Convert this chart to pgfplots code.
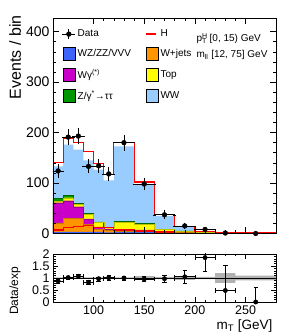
\documentclass[border=0pt]{standalone}
\usepackage{fontspec}
\setmainfont{Liberation Sans}
\usepackage{pgfplots}
\pgfplotsset{compat=1.18}
\usepackage{pgfplotstable}
\usepgfplotslibrary{fillbetween}

\definecolor{cWZ}{RGB}{60,100,250}
\definecolor{cWJ}{RGB}{255,150,0}
\definecolor{cWG}{RGB}{200,0,200}
\definecolor{cTOP}{RGB}{255,255,0}
\definecolor{cDY}{RGB}{0,150,0}
\definecolor{cWW}{RGB}{153,204,255}

\pgfplotstableread{
x wz wj wg top dy ww h rb
60 3 18 40 3 5 64 7 0.03
70 3 27 35 6 5 100 12 0.03
80 3 27 23 5 1.5 106.5 14 0.03
90 3 15 11 9 1.5 105.5 16.7 0.03
100 3 5 5 9 1 103.6 12 0.03
110 2 4 3 3 0.5 93 11.4 0.03
120 3 2 2 16 1 148.6 7 0.03
140 3 1 3 12 1 77 5 0.08
160 2 1 1 4 0.3 26.7 3 0.05
180 1 1 0.3 2.5 0.2 9 0.3 0.08
200 0.5 0.3 0.2 1 0.1 2 0.1 0.05
220 0.3 0.2 0.1 0.4 0.05 1 0.05 0.2
240 0.2 0.1 0.1 0.3 0.05 0.7 0.05 0.1
280 0.2 0.1 0.1 0.3 0.05 0.7 0.05 0.1
}\bkg

\pgfplotstableread{
x ex y ey eyl r er erl
65 5 124 11.1 11.1 0.88 0.08 0.08
75 5 191 13.8 13.8 1.02 0.07 0.07
85 5 193 13.9 13.9 1.07 0.077 0.077
95 5 133 11.5 11.5 0.82 0.07 0.07
105 5 134 11.6 11.6 0.97 0.084 0.084
115 5 118 10.9 10.9 1.01 0.093 0.093
130 10 180 13.4 13.4 1.0 0.075 0.075
150 10 98 9.9 9.9 0.96 0.097 0.097
170 10 37 6.1 6.1 0.97 0.16 0.16
190 10 15 3.9 3.9 1.05 0.27 0.27
210 10 8 2.8 2.8 1.85 0.6 0.55
230 10 1 2.3 0.8 0.48 1.05 0.48
260 20 0 1.8 0 0 0.6 0
}\data

\pgfplotsset{
  sqleg/.style={legend image code/.code={\fill[##1] (1pt,-6.5pt) rectangle (13pt,6.5pt);}},
  dataleg/.style={legend image code/.code={%
    \draw[black, line width=0.8pt] (0pt,0pt)--(13pt,0pt);
    \draw[black, line width=0.8pt] (6.5pt,-5pt)--(6.5pt,5pt);
    \fill[black] (6.5pt,0pt) circle (2.4pt);}},
  hleg/.style={legend image code/.code={\draw[red, line width=1.2pt] (1pt,0pt)--(11pt,0pt);}},
}

\begin{document}
\begin{tikzpicture}
\begin{axis}[
  at={(0pt,0pt)}, anchor=south west,
  scale only axis, width=223pt, height=215.5pt,
  xmin=60, xmax=280, ymin=0, ymax=427,
  xtick={100,150,200,250}, xticklabels={},
  minor x tick num=4,
  ytick={0,100,200,300,400}, minor y tick num=4,
  tick align=inside, major tick length=6pt, minor tick length=3pt,
  tick style={black, line width=0.5pt},
  axis line style={line width=0.8pt},
  axis on top,
  /pgf/number format/assume math mode=true,
  yticklabel style={font=\fontsize{14}{16}\selectfont},
  ylabel={Events / bin},
  ylabel style={font=\fontsize{16}{18}\selectfont, at={(axis description cs:-0.17,1.028)}, anchor=east},
  legend columns=2,
  legend cell align=left,
  legend style={draw=none, fill=none, inner sep=0pt, outer sep=0pt,
    at={(axis description cs:0.040,0.954)}, anchor=north west,
    font=\fontsize{10}{12}\selectfont, row sep=7pt,
    /tikz/every even column/.append style={column sep=3pt}},
]
% stacked backgrounds drawn as cumulative layers (top first)
\addplot[const plot, fill=cWW, draw=none, forget plot] table[x=x, y expr=\thisrow{wz}+\thisrow{wj}+\thisrow{wg}+\thisrow{top}+\thisrow{dy}+\thisrow{ww}] \bkg \closedcycle;
\addplot[const plot, fill=cDY, draw=none, forget plot] table[x=x, y expr=\thisrow{wz}+\thisrow{wj}+\thisrow{wg}+\thisrow{top}+\thisrow{dy}] \bkg \closedcycle;
\addplot[const plot, fill=cTOP, draw=none, forget plot] table[x=x, y expr=\thisrow{wz}+\thisrow{wj}+\thisrow{wg}+\thisrow{top}] \bkg \closedcycle;
\addplot[const plot, fill=cWG, draw=none, forget plot] table[x=x, y expr=\thisrow{wz}+\thisrow{wj}+\thisrow{wg}] \bkg \closedcycle;
\addplot[const plot, fill=cWJ, draw=none, forget plot] table[x=x, y expr=\thisrow{wz}+\thisrow{wj}] \bkg \closedcycle;
\addplot[const plot, fill=cWZ, draw=none, forget plot] table[x=x, y=wz] \bkg \closedcycle;
% layer outlines
\addplot[const plot, draw=cDY!70!black, line width=0.4pt, forget plot] table[x=x, y expr=\thisrow{wz}+\thisrow{wj}+\thisrow{wg}+\thisrow{top}+\thisrow{dy}] \bkg;
\addplot[const plot, draw=cTOP!75!black, line width=0.3pt, forget plot] table[x=x, y expr=\thisrow{wz}+\thisrow{wj}+\thisrow{wg}+\thisrow{top}] \bkg;
\addplot[const plot, draw=cWG!75!black, line width=0.3pt, forget plot] table[x=x, y expr=\thisrow{wz}+\thisrow{wj}+\thisrow{wg}] \bkg;
\addplot[const plot, draw=cWJ!80!black, line width=0.3pt, forget plot] table[x=x, y expr=\thisrow{wz}+\thisrow{wj}] \bkg;
% total with signal
\addplot[const plot, red, line width=1.1pt, forget plot] table[x=x, y expr=\thisrow{wz}+\thisrow{wj}+\thisrow{wg}+\thisrow{top}+\thisrow{dy}+\thisrow{ww}+\thisrow{h}] \bkg;
% signal alone
\addplot[const plot, red, line width=1.1pt, forget plot] table[x=x, y=h] \bkg;
% data
\addplot[black, only marks, mark=*, mark size=2.4pt, forget plot,
  error bars/.cd, x dir=both, x explicit, y dir=both, y explicit,
  error bar style={line width=0.7pt}, error mark options={mark size=1.3pt, line width=0.6pt}]
  table[x=x, y=y, x error=ex, y error plus=ey, y error minus=eyl] \data;

\addlegendimage{dataleg}\addlegendentry{\makebox[63pt][l]{Data}}
\addlegendimage{hleg}\addlegendentry{H}
\addlegendimage{sqleg, fill=cWZ}\addlegendentry{\makebox[63pt][l]{WZ/ZZ/VVV}}
\addlegendimage{sqleg, fill=cWJ}\addlegendentry{W+jets}
\addlegendimage{sqleg, fill=cWG}\addlegendentry{\makebox[63pt][l]{Wγ\textsuperscript{(*)}}}
\addlegendimage{sqleg, fill=cTOP}\addlegendentry{Top}
\addlegendimage{sqleg, fill=cDY}\addlegendentry{\makebox[63pt][l]{Z/γ\textsuperscript{*}→ττ}}
\addlegendimage{sqleg, fill=cWW}\addlegendentry{WW}

\node[anchor=base west, font=\bfseries\fontsize{13}{13}\selectfont] at ([yshift=3pt]rel axis cs:0,1) {CMS};
\node[anchor=base east, font=\fontsize{9}{10}\selectfont] at ([yshift=4pt]rel axis cs:1,1) {19.4 fb\textsuperscript{-1} (8 TeV)};
\node[anchor=west, font=\fontsize{10}{12}\selectfont] at (rel axis cs:0.628,0.905) {p\rlap{\textsuperscript{H}}\textsubscript{T} [0, 15) GeV};
\node[anchor=west, font=\fontsize{10}{12}\selectfont] at (rel axis cs:0.628,0.828) {m\textsubscript{ll} [12, 75] GeV};
\end{axis}

\begin{axis}[
  at={(0pt,-20.5pt)}, anchor=north west,
  scale only axis, width=223pt, height=48pt,
  xmin=60, xmax=280, ymin=0, ymax=2,
  xtick={100,150,200,250}, minor x tick num=4,
  ytick={0,0.5,1,1.5,2}, minor y tick num=4,
  tick align=inside, major tick length=5pt, minor tick length=2.5pt,
  tick style={black, line width=0.5pt},
  axis line style={line width=0.8pt},
  axis on top,
  /pgf/number format/assume math mode=true,
  ticklabel style={font=\fontsize{12.5}{14}\selectfont},
  ylabel={Data/exp},
  ylabel style={font=\fontsize{12}{14}\selectfont, at={(axis description cs:-0.17,0.81)}, anchor=east},
  xlabel={m\textsubscript{T} [GeV]},
  xlabel style={font=\fontsize{13.5}{15}\selectfont, at={(axis description cs:1,-0.29)}, anchor=north east},
]
\addplot[const plot, draw=none, name path=rup, forget plot] table[x=x, y expr=1+\thisrow{rb}] \bkg;
\addplot[const plot, draw=none, name path=rlo, forget plot] table[x=x, y expr=1-\thisrow{rb}] \bkg;
\addplot[fill=gray!60, draw=none, forget plot] fill between[of=rup and rlo];
\addplot[black, line width=0.6pt, forget plot] coordinates {(60,1) (280,1)};
\addplot[black, only marks, mark=*, mark size=2.2pt, forget plot,
  error bars/.cd, x dir=both, x explicit, y dir=both, y explicit,
  error bar style={line width=0.7pt}]
  table[x=x, y=r, x error=ex, y error plus=er, y error minus=erl] \data;
\end{axis}
\pgfresetboundingbox
\useasboundingbox (-53pt,-102.5pt) rectangle (238pt,233.5pt);
\end{tikzpicture}
\end{document}
